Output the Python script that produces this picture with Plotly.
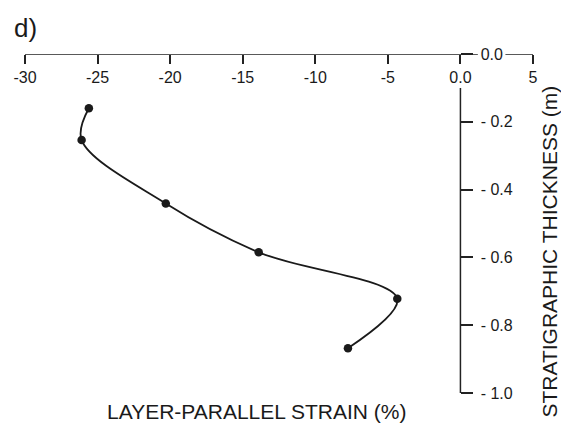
import plotly.graph_objects as go

# Data
strain = [-25.6, -26.1, -20.3, -13.9, -4.35, -7.75]          # layer-parallel strain (%)
thickness = [-0.160, -0.254, -0.441, -0.585, -0.722, -0.868]  # stratigraphic thickness (m)

x_tickvals = [-30, -25, -20, -15, -10, -5, 0, 5]
x_ticktext = ["-30", "-25", "-20", "-15", "-10", "-5", "0.0", "5"]
y_tickvals = [0, -0.2, -0.4, -0.6, -0.8, -1.0]
y_ticktext = ["0.0", "- 0.2", "- 0.4", "- 0.6", "- 0.8", "- 1.0"]

FONT = "Liberation Sans, Arial, sans-serif"
INK = "#1a1a1a"
AX = "#222222"

fig = go.Figure(
    go.Scatter(
        x=strain, y=thickness, mode="lines+markers",
        line=dict(shape="spline", smoothing=1, color=INK, width=1.8),
        marker=dict(size=8.5, color=INK),
        cliponaxis=False, showlegend=False,
    )
)

fig.update_layout(
    width=561, height=431,
    margin=dict(l=25, r=28, t=54, b=38),
    paper_bgcolor="white", plot_bgcolor="white",
    font=dict(family=FONT, color=INK),
    xaxis=dict(
        range=[-30, 5], anchor="free", position=1, side="bottom",
        showline=False, zeroline=False, showgrid=False,
        ticks="outside", ticklen=9, tickwidth=1.5, tickcolor=AX,
        tickvals=x_tickvals, ticktext=x_ticktext,
        tickfont=dict(size=16, family=FONT, color=INK),
    ),
    yaxis=dict(
        range=[-1.0, 0], anchor="free", position=30 / 35, side="right",
        showline=False, zeroline=False, showgrid=False,
        ticks="outside", ticklen=12, tickwidth=1.5, tickcolor=AX,
        tickvals=y_tickvals, ticktext=y_ticktext,
        ticklabelstandoff=4,
        tickfont=dict(size=16, family=FONT, color=INK),
    ),
    shapes=[
        dict(type="line", xref="x", yref="y", x0=-30, x1=1.2, y0=0, y1=0,
             line=dict(color=AX, width=1.5)),
        dict(type="line", xref="x", yref="y", x0=3.1, x1=5, y0=0, y1=0,
             line=dict(color=AX, width=1.5)),
        dict(type="line", xref="x", yref="y", x0=0, x1=0, y0=-0.1, y1=-1.0,
             line=dict(color=AX, width=1.5)),
    ],
    annotations=[
        dict(text="d)", xref="paper", yref="paper", x=0.0, y=(393 - 28) / 339,
             xanchor="center", yanchor="middle", showarrow=False,
             font=dict(size=26, family=FONT, color=INK)),
        dict(text="LAYER-PARALLEL STRAIN (%)", xref="paper", yref="paper",
             x=(257.3 - 25) / 508, y=(393 - 411) / 339,
             xanchor="center", yanchor="middle", showarrow=False,
             font=dict(size=21, family=FONT, color=INK)),
        dict(text="STRATIGRAPHIC THICKNESS (m)", xref="paper", yref="paper",
             x=(549 - 25) / 508, y=(393 - 251.5) / 339, textangle=-90,
             xanchor="center", yanchor="middle", showarrow=False,
             font=dict(size=21, family=FONT, color=INK)),
    ],
)

fig.write_html("out.html")
